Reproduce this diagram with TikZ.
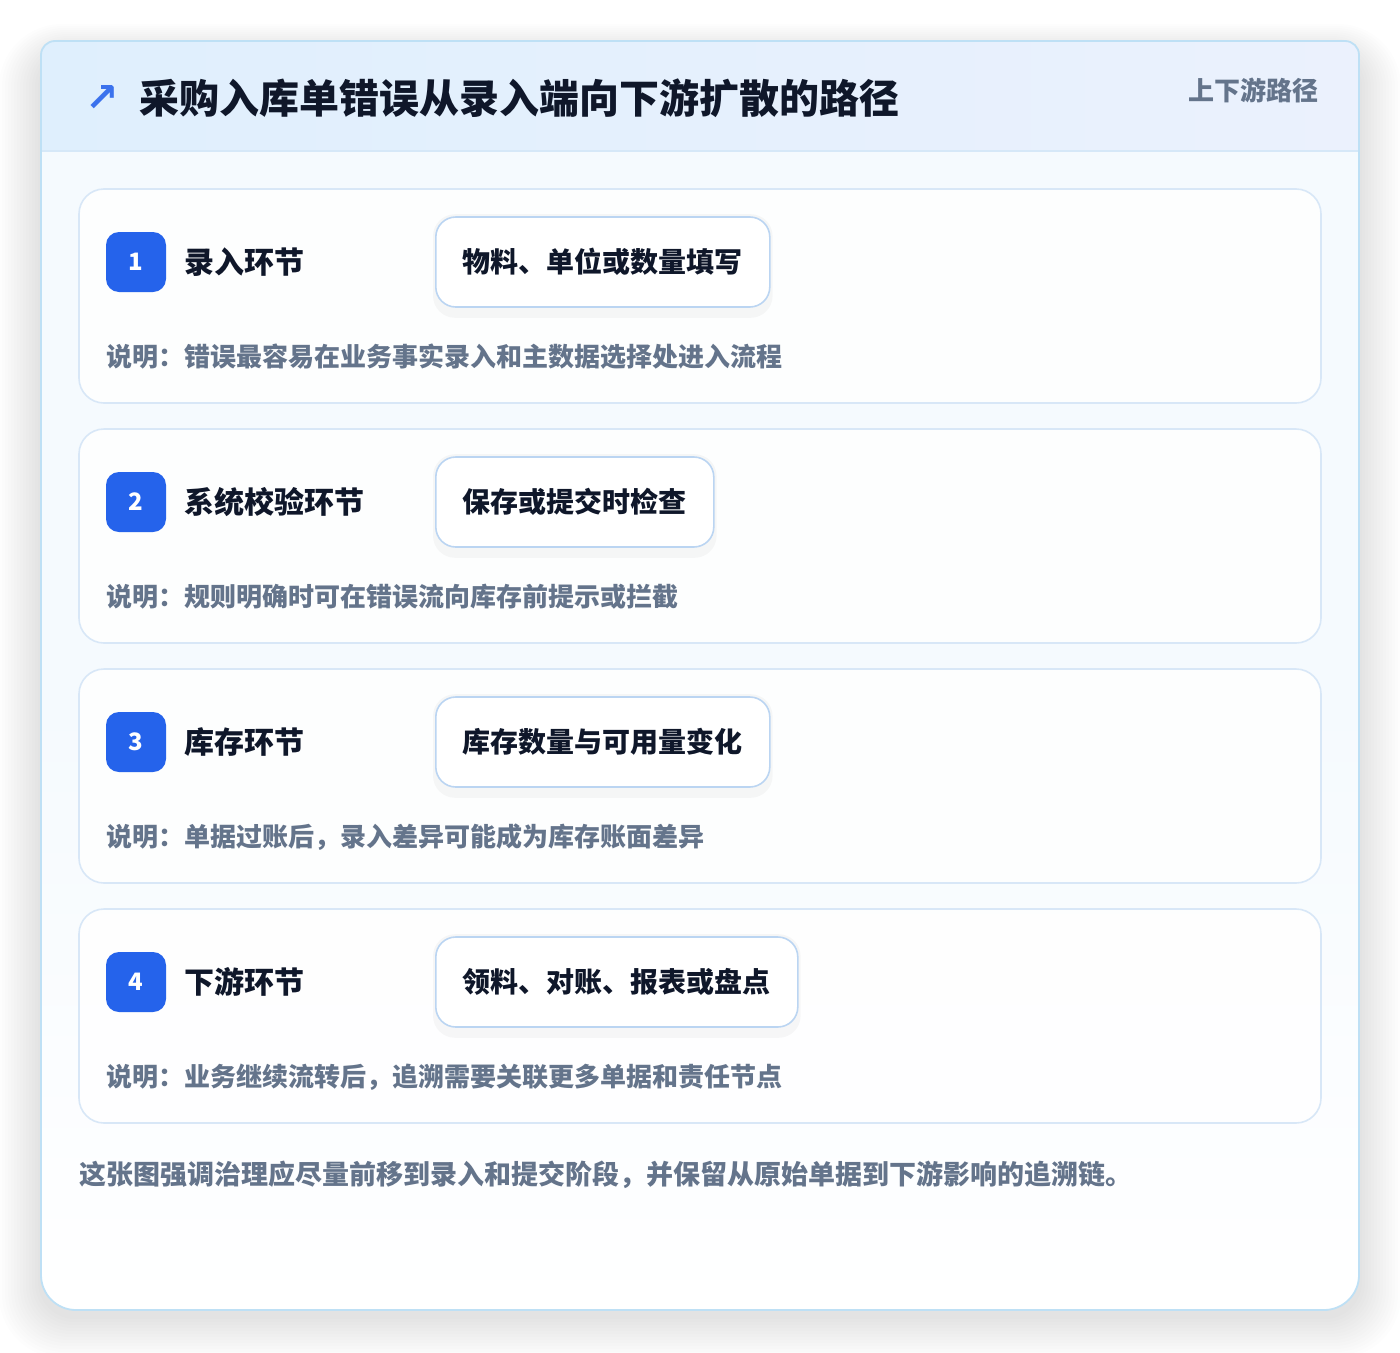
\documentclass[tikz,border=0pt]{standalone}
\usepackage{fontspec}
\usetikzlibrary{positioning}
\newfontfamily\cjk{Noto Sans CJK SC}
\newfontfamily\sym{DejaVu Sans}
\pgfdeclarelayer{back}
\pgfdeclarelayer{shade}
\pgfsetlayers{back,shade,main}
\definecolor{ink}{HTML}{0F172A}
\definecolor{mgray}{HTML}{64748B}
\definecolor{mblue}{HTML}{2563EB}
\definecolor{cardline}{HTML}{BEE0F5}
\definecolor{headline}{HTML}{D6E8F8}
\definecolor{stepline}{HTML}{D8E7F7}
\definecolor{pillline}{HTML}{BBD5F2}
\definecolor{headl}{HTML}{DFEFFD}
\definecolor{headr}{HTML}{EBF1FD}
\definecolor{bodytop}{HTML}{F5FAFE}
\tikzset{
  stepcard/.style = {draw = stepline, line width = 1.6, fill = white, fill opacity = 0.85, text opacity = 1,
    rounded corners = 25, minimum width = 1242, minimum height = 214, inner sep = 0},
  badge/.style = {fill = mblue, rounded corners = 13, minimum size = 60, inner sep = 0,
    text = white, font = \cjk\bfseries\fontsize{24}{24}\selectfont},
  steptitle/.style = {anchor = west, inner sep = 0, text = ink, font = \cjk\bfseries\fontsize{30}{30}\selectfont},
  pill/.style = {anchor = west, draw = pillline, line width = 1.6, fill = white, rounded corners = 20,
    minimum height = 90, inner xsep = 27, text = ink, font = \cjk\bfseries\fontsize{28}{28}\selectfont},
  note/.style = {anchor = west, inner sep = 0, text = mgray, font = \cjk\bfseries\fontsize{26}{26}\selectfont}
}

\begin{document}
\begin{tikzpicture}[x = 1pt, y = -1pt]
    \begin{pgfonlayer}{back}
    \useasboundingbox [fill = white] (0, 0) rectangle (1400, 1352);
    % soft shadow round the card
    \foreach \k in {1,...,14}{
      \fill [black, opacity = 0.006, rounded corners = 35 + 2*\k]
        (41 - 3*\k, 52 - 2*\k) rectangle (1359 + 3*\k, 1316 + 3*\k);
    }
    % card
    \fill [bodytop] (41, 151) rectangle (1359, 700);
    \fill [bottom color = white, top color = bodytop] (41, 700) -- (41, 1275) [rounded corners = 35] -- (41, 1310) -- (1359, 1310) [sharp corners] -- (1359, 1275) -- (1359, 700) -- cycle;
    \shade [left color = headl, right color = headr]
      (41, 151) -- (41, 60) [rounded corners = 14] -- (41, 41) -- (1359, 41) [sharp corners] -- (1359, 60) -- (1359, 151) -- cycle;
    \draw [headline, line width = 1.4] (41, 151) -- (1359, 151);
    \draw [cardline, line width = 1.8] (41, 80) [rounded corners = 14] -- (41, 41) -- (1359, 41) [rounded corners = 35] -- (1359, 1310) -- (41, 1310) [sharp corners] -- (41, 80);
    \end{pgfonlayer}
    % header
    \node [text = mblue!90, font = \sym\bfseries\fontsize{40}{40}\selectfont, inner sep = 0] (icon) at (102, 98) {↗};
    \node [anchor = west, inner sep = 0, text = ink, font = \cjk\bfseries\fontsize{40}{40}\selectfont] (title) at (139, 98) {采购入库单错误从录入端向下游扩散的路径};
    \node [anchor = east, inner sep = 0, text = mgray, font = \cjk\bfseries\fontsize{26}{26}\selectfont] (tag) at (1319, 90) {上下游路径};
    % steps
    \foreach \i/\name/\what/\why in {
      1/录入环节/物料、单位或数量填写/说明：错误最容易在业务事实录入和主数据选择处进入流程,
      2/系统校验环节/保存或提交时检查/说明：规则明确时可在错误流向库存前提示或拦截,
      3/库存环节/库存数量与可用量变化/说明：单据过账后，录入差异可能成为库存账面差异,
      4/下游环节/领料、对账、报表或盘点/说明：业务继续流转后，追溯需要关联更多单据和责任节点}{
      \pgfmathsetmacro\yy{262 + 240*(\i - 1)}
      \begin{pgfonlayer}{back}
        \node [stepcard] (card\i) at (700, \yy + 34) {};
      \end{pgfonlayer}
      \node [badge] (badge\i) at (136, \yy) {\i};
      \node [steptitle] (name\i) at (184, \yy) {\name};
      \node [pill] (pill\i) at (435, \yy) {\what};
      \begin{pgfonlayer}{shade}
        \fill [black, opacity = 0.03, rounded corners = 22]
          ([xshift = -2, yshift = -10] pill\i.south west) rectangle ([xshift = 2, yshift = 2] pill\i.north east);
      \end{pgfonlayer}
      \node [note] (why\i) at (106, \yy + 95) {\why};
    }
    \node [note, font = \cjk\bfseries\fontsize{27}{27}\selectfont] (foot) at (79, 1175) {这张图强调治理应尽量前移到录入和提交阶段，并保留从原始单据到下游影响的追溯链。};
  \end{tikzpicture}
\end{document}
